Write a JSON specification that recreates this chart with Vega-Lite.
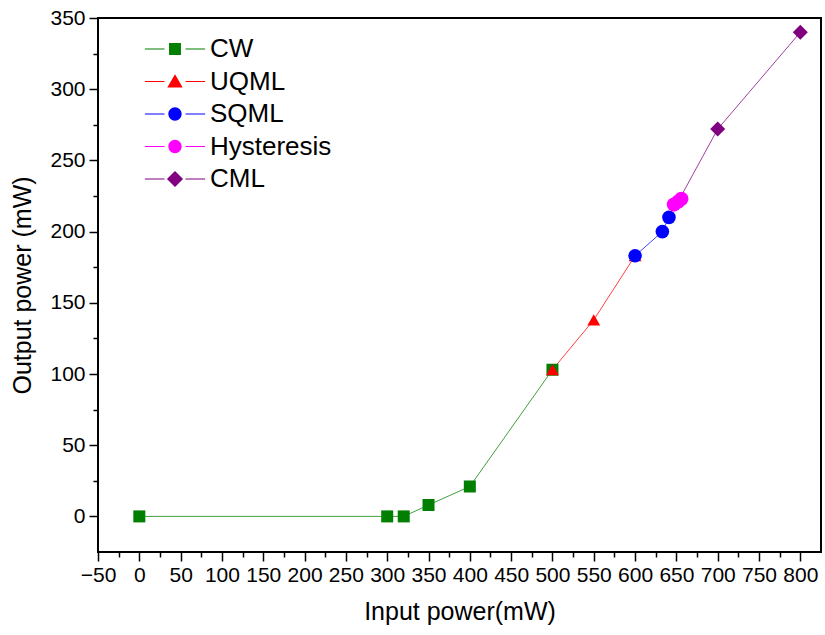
{
  "$schema": "https://vega.github.io/schema/vega-lite/v6.json",
  "width": 723,
  "height": 534,
  "autosize": "none",
  "padding": {"left": 98, "top": 18, "right": 4, "bottom": 83},
  "background": "white",
  "data": {
    "values": [
      {"series": "CW", "input": 0, "output": 0},
      {"series": "CW", "input": 300, "output": 0},
      {"series": "CW", "input": 320, "output": 0},
      {"series": "CW", "input": 350, "output": 8},
      {"series": "CW", "input": 400, "output": 21},
      {"series": "CW", "input": 500, "output": 103},
      {"series": "UQML", "input": 500, "output": 103},
      {"series": "UQML", "input": 550, "output": 138},
      {"series": "UQML", "input": 600, "output": 183},
      {"series": "SQML", "input": 600, "output": 183},
      {"series": "SQML", "input": 633, "output": 200},
      {"series": "SQML", "input": 641, "output": 210},
      {"series": "CML", "input": 652, "output": 221},
      {"series": "CML", "input": 700, "output": 272},
      {"series": "CML", "input": 800, "output": 340},
      {"series": "Hysteresis", "input": 647, "output": 219},
      {"series": "Hysteresis", "input": 652, "output": 221},
      {"series": "Hysteresis", "input": 656, "output": 223}
    ]
  },
  "config": {
    "font": "Liberation Sans",
    "view": {"stroke": "black", "strokeWidth": 2},
    "axis": {
      "domain": false,
      "grid": false,
      "tickColor": "black",
      "tickWidth": 1.5,
      "labelColor": "black",
      "titleColor": "black",
      "labelFont": "Liberation Sans",
      "titleFont": "Liberation Sans",
      "labelFontSize": 21,
      "titleFontSize": 25,
      "titleFontWeight": "normal"
    }
  },
  "layer": [
    {
      "mark": {"type": "line", "strokeWidth": 1, "opacity": 0.75},
      "encoding": {
        "x": {
          "field": "input", "type": "quantitative",
          "scale": {"domain": [-50, 825], "nice": false, "zero": false},
          "axis": {
            "orient": "bottom",
            "title": "Input power(mW)",
            "titlePadding": 14,
            "values": [-50,-25,0,25,50,75,100,125,150,175,200,225,250,275,300,325,350,375,400,425,450,475,500,525,550,575,600,625,650,675,700,725,750,775,800],
            "labelExpr": "datum.value % 50 === 0 ? datum.label : ''",
            "tickSize": {"condition": {"test": "datum.value % 50 === 0", "value": 9}, "value": 5},
            "labelPadding": 3,
            "labelFlush": false,
            "labelOverlap": false
          }
        },
        "y": {
          "field": "output", "type": "quantitative",
          "scale": {"domain": [-25, 350], "nice": false, "zero": false},
          "axis": {
            "orient": "left",
            "title": "Output power (mW)",
            "titlePadding": 14,
            "values": [0,25,50,75,100,125,150,175,200,225,250,275,300,325,350],
            "labelExpr": "datum.value % 50 === 0 ? datum.label : ''",
            "tickSize": {"condition": {"test": "datum.value % 50 === 0", "value": 9}, "value": 5},
            "labelPadding": 4,
            "labelFlush": false,
            "labelOverlap": false
          }
        },
        "color": {
          "field": "series", "type": "nominal",
          "scale": {"domain": ["CW", "UQML", "SQML", "Hysteresis", "CML"], "range": ["#007f00", "#ff0000", "#0000ff", "#ff00ff", "#800080"]},
          "legend": null
        },
        "order": {"field": "input", "type": "quantitative"}
      }
    },
    {
      "mark": {"type": "point", "filled": true, "opacity": 1},
      "encoding": {
        "x": {"field": "input", "type": "quantitative", "scale": {"domain": [-50, 825], "nice": false, "zero": false}, "axis": null},
        "y": {"field": "output", "type": "quantitative", "scale": {"domain": [-25, 350], "nice": false, "zero": false}, "axis": null},
        "color": {
          "field": "series", "type": "nominal",
          "scale": {"domain": ["CW", "UQML", "SQML", "Hysteresis", "CML"], "range": ["#007f00", "#ff0000", "#0000ff", "#ff00ff", "#800080"]},
          "legend": null
        },
        "shape": {
          "field": "series", "type": "nominal",
          "scale": {"domain": ["CW", "UQML", "SQML", "Hysteresis", "CML"], "range": ["square", "triangle-up", "circle", "circle", "diamond"]},
          "legend": null
        },
        "size": {
          "field": "series", "type": "nominal",
          "scale": {"domain": ["CW", "UQML", "SQML", "Hysteresis", "CML"], "range": [144, 225, 180, 180, 256]},
          "legend": null
        }
      }
    },
    {
      "transform": [{"filter": "false"}],
      "mark": {"type": "point", "filled": true, "opacity": 1},
      "encoding": {
        "x": {"field": "input", "type": "quantitative", "scale": {"domain": [-50, 825], "nice": false, "zero": false}, "axis": null},
        "y": {"field": "output", "type": "quantitative", "scale": {"domain": [-25, 350], "nice": false, "zero": false}, "axis": null},
        "color": {
          "field": "series", "type": "nominal",
          "scale": {"domain": ["CW", "UQML", "SQML", "Hysteresis", "CML"], "range": ["#007f00", "#ff0000", "#0000ff", "#ff00ff", "#800080"]},
          "legend": {
            "title": null, "orient": "none", "legendX": 64, "legendY": 18,
            "labelFontSize": 26, "labelFont": "Liberation Sans", "labelColor": "black",
            "labelOffset": 22, "rowPadding": 6.5, "symbolSize": 196, "symbolStrokeWidth": 0, "symbolOpacity": 1,
            "labelLimit": 300
          }
        },
        "shape": {
          "field": "series", "type": "nominal",
          "scale": {
            "domain": ["CW", "UQML", "SQML", "Hysteresis", "CML"],
            "range": [
              "M-4.3,-0.07H-1.5V0.07H-4.3Z M1.5,-0.07H4.3V0.07H1.5Z M-0.85,-0.85H0.85V0.85H-0.85Z",
              "M-4.3,-0.07H-1.5V0.07H-4.3Z M1.5,-0.07H4.3V0.07H1.5Z M0,-1.05L1.1,0.85H-1.1Z",
              "M-4.3,-0.07H-1.5V0.07H-4.3Z M1.5,-0.07H4.3V0.07H1.5Z M-0.95,0A0.95,0.95,0,1,0,0.95,0A0.95,0.95,0,1,0,-0.95,0Z",
              "M-4.3,-0.07H-1.5V0.07H-4.3Z M1.5,-0.07H4.3V0.07H1.5Z M-0.95,0A0.95,0.95,0,1,0,0.95,0A0.95,0.95,0,1,0,-0.95,0Z",
              "M-4.3,-0.07H-1.5V0.07H-4.3Z M1.5,-0.07H4.3V0.07H1.5Z M0,-1.15L1.15,0L0,1.15L-1.15,0Z"
            ]
          },
          "legend": {
            "title": null, "orient": "none", "legendX": 64, "legendY": 18,
            "labelFontSize": 26, "labelFont": "Liberation Sans", "labelColor": "black",
            "labelOffset": 22, "rowPadding": 6.5, "symbolSize": 196, "symbolStrokeWidth": 0, "symbolOpacity": 1,
            "labelLimit": 300
          }
        }
      }
    }
  ],
  "resolve": {
    "scale": {"x": "independent", "y": "independent", "color": "independent", "shape": "independent", "size": "independent"},
    "axis": {"x": "independent", "y": "independent"},
    "legend": {"color": "independent", "shape": "independent", "size": "independent"}
  }
}
